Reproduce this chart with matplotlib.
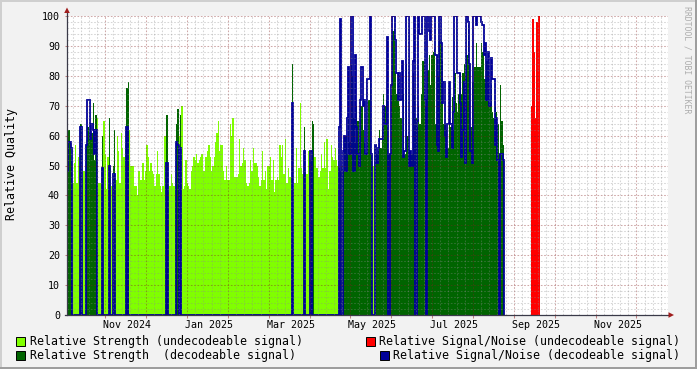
import numpy as np
import matplotlib
matplotlib.use("Agg")
import matplotlib.pyplot as plt
from matplotlib.patches import Rectangle, Polygon
from matplotlib.lines import Line2D

plt.rcParams['font.family'] = ['DejaVu Sans Mono', 'DejaVu Sans']
plt.rcParams['lines.scale_dashes'] = False

# ---------------- data (one sample per day, day 0 = start of graph) ----------------
rel_strength = [
    54, 62, 58, 52, 44, 51, 57, 44, 53, 50,
    64, 46, 48, 48, 57, 63, 61, 61, 61, 71,
    52, 67, 66, 44, 44, 49, 60, 65, 54, 42,
    53, 66, 49, 43, 50, 62, 45, 60, 55, 44,
    61, 56, 53, 57, 76, 78, 62, 50, 50, 50,
    43, 43, 40, 48, 45, 45, 51, 45, 48, 57,
    53, 48, 51, 48, 47, 43, 47, 55, 47, 43,
    41, 43, 60, 60, 67, 41, 43, 47, 44, 43,
    45, 64, 69, 60, 67, 70, 42, 43, 52, 44,
    43, 42, 48, 50, 53, 52, 54, 51, 52, 53,
    54, 48, 48, 53, 55, 57, 53, 48, 50, 53,
    58, 61, 65, 55, 57, 57, 48, 45, 50, 45,
    45, 64, 60, 66, 46, 46, 46, 47, 59, 50,
    51, 56, 52, 44, 43, 44, 52, 48, 56, 51,
    51, 50, 46, 43, 45, 55, 45, 48, 42, 50,
    50, 53, 45, 52, 41, 45, 46, 45, 57, 53,
    57, 47, 59, 44, 49, 46, 46, 84, 42, 44,
    56, 44, 49, 71, 49, 47, 63, 48, 47, 55,
    52, 52, 65, 64, 53, 49, 49, 46, 48, 54,
    49, 58, 49, 59, 42, 48, 57, 53, 52, 56,
    52, 50, 49, 48, 50, 48, 60, 60, 54, 67,
    58, 84, 80, 66, 58, 70, 65, 58, 70, 70,
    62, 58, 54, 58, 72, 87, 54, 50, 56, 56,
    54, 55, 62, 56, 63, 74, 70, 72, 63, 54,
    54, 74, 95, 96, 81, 74, 74, 70, 66, 54,
    74, 54, 84, 60, 54, 54, 54, 81, 74, 66,
    63, 70, 64, 74, 85, 85, 70, 54, 82, 87,
    77, 87, 88, 89, 64, 87, 80, 92, 92, 85,
    64, 64, 62, 56, 73, 63, 73, 62, 81, 71,
    68, 74, 81, 74, 81, 84, 80, 87, 97, 84,
    63, 78, 78, 83, 91, 83, 83, 83, 91, 88,
    79, 79, 85, 76, 71, 77, 68, 66, 70, 68,
    64, 54, 77, 65, 57,
]

decodeable = (
    [1, 1, 1, 1, 0, 0, 0, 0, 0, 0,
     1, 0, 0, 0, 1, 1, 1, 1, 1, 1,
     1, 1, 0, 0, 0, 0, 1, 0, 0, 0,
     0, 1, 0, 0, 1, 1, 0, 0, 0, 0,
     0, 0, 0, 0, 1, 1, 0, 0, 0, 0]
    + [0] * 20
    + [0, 0, 0, 0, 1, 0, 0, 0, 0, 0,
       0, 1, 1, 0, 1, 0, 0, 0, 0, 0]
    + [0] * 70
    + [0, 0, 0, 0, 0, 0, 0, 1, 0, 0,
       0, 0, 0, 0, 0, 0, 1, 0, 0, 0,
       0, 1, 1, 1, 0, 0, 0, 0, 0, 0]
    + [0] * 10
    + [0, 0, 1, 1, 0, 1, 1, 1, 1, 1]
    + [1] * 10
    + [1, 1, 1, 1, 1, 1, 1, 0, 0, 1]
    + [1] * 95
)

rel_snr = (
    [48, 58, 58, 56, 0, 0, 0, 0, 0, 0,
     63, 0, 0, 0, 57, 72, 72, 59, 64, 62,
     54, 62, 0, 0, 0, 0, 49, 0, 0, 0,
     0, 50, 0, 0, 47, 47, 0, 0, 0, 0,
     0, 0, 0, 0, 63, 0, 0, 0, 0, 0]
    + [0] * 20
    + [0, 0, 0, 0, 51, 0, 0, 0, 0, 0,
       0, 58, 57, 0, 56, 0, 0, 0, 0, 0]
    + [0] * 70
    + [0, 0, 0, 0, 0, 0, 0, 71, 0, 0,
       0, 0, 0, 0, 0, 0, 55, 0, 0, 0,
       0, 55, 0, 0, 0, 0, 0, 0, 0, 0]
    + [0] * 10
    + [0, 0, 63, 99, 0, 55, 60, 48, 66, 83,
       54, 100, 100, 48, 87, 63, 54, 50, 72, 83,
       70, 72, 54, 79, 79, 100, 54, 0, 0, 57,
       51, 56, 59, 59, 59, 70, 64, 64, 93, 0,
       54, 77, 100, 100, 92, 81, 72, 81, 72, 85,
       53, 55, 100, 100, 50, 55, 50, 85, 100, 0,
       65, 100, 94, 94, 100, 100, 72, 0, 100, 95,
       92, 100, 100, 100, 87, 57, 55, 100, 91, 71,
       78, 60, 53, 64, 78, 64, 56, 68, 100, 100,
       81, 81, 71, 53, 62, 78, 51, 100, 98, 84,
       55, 51, 100, 100, 97, 100, 100, 100, 98, 97,
       87, 91, 72, 88, 70, 86, 79, 79, 57, 66,
       52, 0, 54, 54, 52]
)

snr_undecodeable = [70, 99, 88, 66, 98, 100, 100]
snr_undecodeable_first_day = 345

days_shown = 447
date_labels = ["Nov 2024", "Jan 2025", "Mar 2025", "May 2025",
               "Jul 2025", "Sep 2025", "Nov 2025"]
y_ticks = list(range(0, 101, 10))

legend_labels = ["Relative Strength (undecodeable signal)",
                 "Relative Signal/Noise (undecodeable signal)",
                 "Relative Strength  (decodeable signal)",
                 "Relative Signal/Noise (decodeable signal)"]

# ---------------- styling ----------------
LIGHT = '#80FF00'
DARK = '#006400'
NAVY = '#000099'
RED = '#FF0000'
BACK = '#F2F2F2'
MINOR_C = (0.55, 0.55, 0.55, 0.35)
MAJOR_C = (0.51, 0.12, 0.12, 0.38)
AXIS_C = '#3a3a48'
ARROW_C = '#A01E1E'

W, H = 697, 369
L, R, T, B = 67, 668, 16, 315

fig = plt.figure(figsize=(W / 100, H / 100), dpi=100, facecolor=BACK)
ax = fig.add_axes([L / W, 1 - B / H, (R - L) / W, (B - T) / H])
ax.set_facecolor('white')
ax.set_xlim(0, days_shown)
ax.set_ylim(0, 100)
for sp in ax.spines.values():
    sp.set_visible(False)

s = np.array(rel_strength, float)
dec = np.array(decodeable, bool)
q = np.array(rel_snr, float)
edges = np.arange(len(s) + 1)

ax.stairs(np.where(dec, 0, s), edges, baseline=0, fill=True,
          facecolor=LIGHT, edgecolor='none', zorder=2)
red_edges = snr_undecodeable_first_day + np.arange(len(snr_undecodeable) + 1)
ax.stairs(snr_undecodeable, red_edges, baseline=0, fill=True,
          facecolor=RED, edgecolor='none', zorder=3)
ax.stairs(np.where(dec, s, 0), edges, baseline=0, fill=True,
          facecolor=DARK, edgecolor='none', zorder=4)
ax.stairs(q, edges, baseline=0, fill=False, color=NAVY, lw=1.3, zorder=5)

# ---------------- grid ----------------
px_day = (R - L) / days_shown
major_step = 40.85 / px_day
major0 = (105.3 - L) / px_day
minor_step = major_step / 5
dash = (0, (1.2, 1.2))

k = -4
while True:
    xv = major0 + k * minor_step
    if xv > days_shown:
        break
    if xv > 0.5:
        if k % 5 == 0:
            ax.axvline(xv, color=MAJOR_C, lw=0.75, ls=dash, zorder=6)
        else:
            ax.axvline(xv, color=MINOR_C, lw=0.75, ls=dash, zorder=6)
    k += 1

for yv in range(2, 101, 2):
    if yv % 10 == 0:
        ax.axhline(yv, color=MAJOR_C, lw=0.75, ls=dash, zorder=6)
    else:
        ax.axhline(yv, color=MINOR_C, lw=0.75, ls=dash, zorder=6)

# ---------------- ticks ----------------
majors = [major0 + i * major_step for i in range(20) if major0 + i * major_step < days_shown]
ax.set_xticks(majors)
ax.set_xticklabels([])
ax.tick_params(axis='x', length=2.2, width=0.75, color=(0.75, 0.5, 0.5), direction='out')
ax.set_yticks(y_ticks)
ax.set_yticklabels([str(v) for v in y_ticks])
ax.tick_params(axis='y', length=1.5, width=0.75, color=(0.75, 0.5, 0.5),
               direction='out', pad=3.5, labelsize=7.2)

label0 = (127 - L) / px_day
label_step = 81.83 / px_day
for i, lab in enumerate(date_labels):
    ax.text(label0 + i * label_step, (B - 327.7) / (B - T), lab,
            transform=ax.get_xaxis_transform(), ha='center', va='baseline',
            fontsize=7.2)

# ---------------- axes lines & arrows ----------------
def fx(px):
    return px / W

def fy(py):
    return 1 - py / H

fig.add_artist(Line2D([fx(L), fx(L)], [fy(B), fy(12)], color=AXIS_C, lw=0.9, zorder=10))
fig.add_artist(Line2D([fx(L - 2), fx(669)], [fy(B), fy(B)], color=AXIS_C, lw=0.9, zorder=10))
fig.add_artist(Polygon([(fx(L), fy(7.5)), (fx(L - 2.8), fy(13)), (fx(L + 2.8), fy(13))],
                       closed=True, facecolor=ARROW_C, edgecolor='none', zorder=11))
fig.add_artist(Polygon([(fx(674), fy(B)), (fx(668.5), fy(B - 2.8)), (fx(668.5), fy(B + 2.8))],
                       closed=True, facecolor=ARROW_C, edgecolor='none', zorder=11))

# ---------------- texts ----------------
fig.text(fx(12), fy(164.5), "Relative Quality", rotation=90, ha='center', va='center',
         fontsize=8.4)
fig.text(fx(687.5), fy(59.5), "RRDTOOL / TOBI OETIKER", rotation=270, ha='center',
         va='center', fontsize=5.9, color='#ADADAD')

# ---------------- legend ----------------
legend_colors = [LIGHT, RED, DARK, NAVY]
rows = [344.8, 358.8]
swatch_x = [16, 366, 16, 380]
text_x = [30, 680, 30, 680]
aligns = ['left', 'right', 'left', 'right']
for i, (lab, col) in enumerate(zip(legend_labels, legend_colors)):
    r = rows[i // 2]
    fig.add_artist(Rectangle((fx(swatch_x[i]), fy(r + 0.8)), 8.5 / W, 9 / H,
                             transform=fig.transFigure, facecolor=col,
                             edgecolor='black', lw=0.7, zorder=10))
    fig.text(fx(text_x[i]), fy(r), lab, ha=aligns[i], va='baseline', fontsize=8.35)

# ---------------- 3D frame ----------------
fig.add_artist(Rectangle((0, 1 - 2 / H), 1, 2 / H, transform=fig.transFigure,
                         facecolor='#CFCFCF', edgecolor='none', zorder=20))
fig.add_artist(Rectangle((0, 0), 2 / W, 1, transform=fig.transFigure,
                         facecolor='#CFCFCF', edgecolor='none', zorder=20))
fig.add_artist(Rectangle((0, 0), 1, 2 / H, transform=fig.transFigure,
                         facecolor='#9E9E9E', edgecolor='none', zorder=21))
fig.add_artist(Rectangle((1 - 2 / W, 0), 2 / W, 1, transform=fig.transFigure,
                         facecolor='#9E9E9E', edgecolor='none', zorder=21))

fig.savefig("out.png", dpi=100, facecolor=BACK)
